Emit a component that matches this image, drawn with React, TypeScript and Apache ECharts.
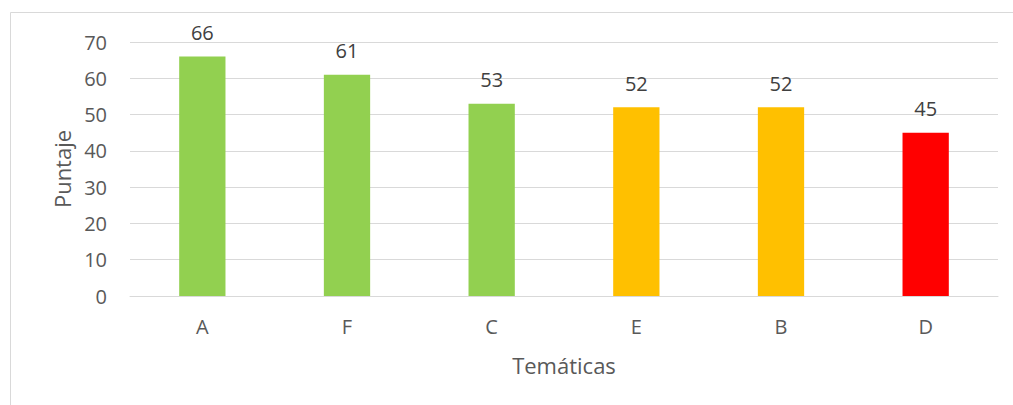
import React, { useEffect, useRef } from "react";
import * as echarts from "echarts";

const categories = ["A", "F", "C", "E", "B", "D"];
const values = [66, 61, 53, 52, 52, 45];
const barColors = ["#92D050", "#92D050", "#92D050", "#FFC000", "#FFC000", "#FF0000"];
const yTicks = { min: 0, max: 70, interval: 10 };

export default function App() {
  const ref = useRef<HTMLDivElement>(null);
  useEffect(() => {
    document.body.style.margin = "0";
    const chart = echarts.init(ref.current!, null, { renderer: "svg" });
    const font = "'Open Sans', sans-serif";
    chart.setOption({
      animation: false,
      backgroundColor: "#ffffff",
      textStyle: { fontFamily: font },
      grid: { left: 130, right: 15, top: 42, bottom: 109 },
      graphic: [
        {
          type: "rect",
          shape: { x: 10.5, y: 12.5, width: 1010, height: 400 },
          style: { fill: "none", stroke: "#d9d9d9", lineWidth: 1 },
          silent: true,
        },
      ],
      xAxis: {
        type: "category",
        data: categories,
        name: "Temáticas",
        nameLocation: "middle",
        nameGap: 58,
        nameTextStyle: { fontSize: 22, color: "#595959", fontFamily: font },
        axisLine: { lineStyle: { color: "#d9d9d9", width: 1 } },
        axisTick: { show: false },
        axisLabel: { fontSize: 20, color: "#595959", margin: 20, fontFamily: font },
      },
      yAxis: {
        type: "value",
        min: yTicks.min,
        max: yTicks.max,
        interval: yTicks.interval,
        name: "Puntaje",
        nameLocation: "middle",
        nameGap: 56,
        nameTextStyle: { fontSize: 22, color: "#595959", fontFamily: font },
        axisLine: { show: false },
        axisTick: { show: false },
        axisLabel: { fontSize: 20, color: "#595959", margin: 23, fontFamily: font },
        splitLine: { lineStyle: { color: "#d9d9d9", width: 1 } },
      },
      series: [
        {
          type: "bar",
          barWidth: "32%",
          data: values.map((v, i) => ({ value: v, itemStyle: { color: barColors[i] } })),
          label: {
            show: true,
            position: "top",
            distance: 14,
            fontSize: 20,
            color: "#404040",
            fontFamily: font,
          },
        },
      ],
    });
    return () => chart.dispose();
  }, []);
  return <div ref={ref} style={{ width: 1013, height: 405 }} />;
}
